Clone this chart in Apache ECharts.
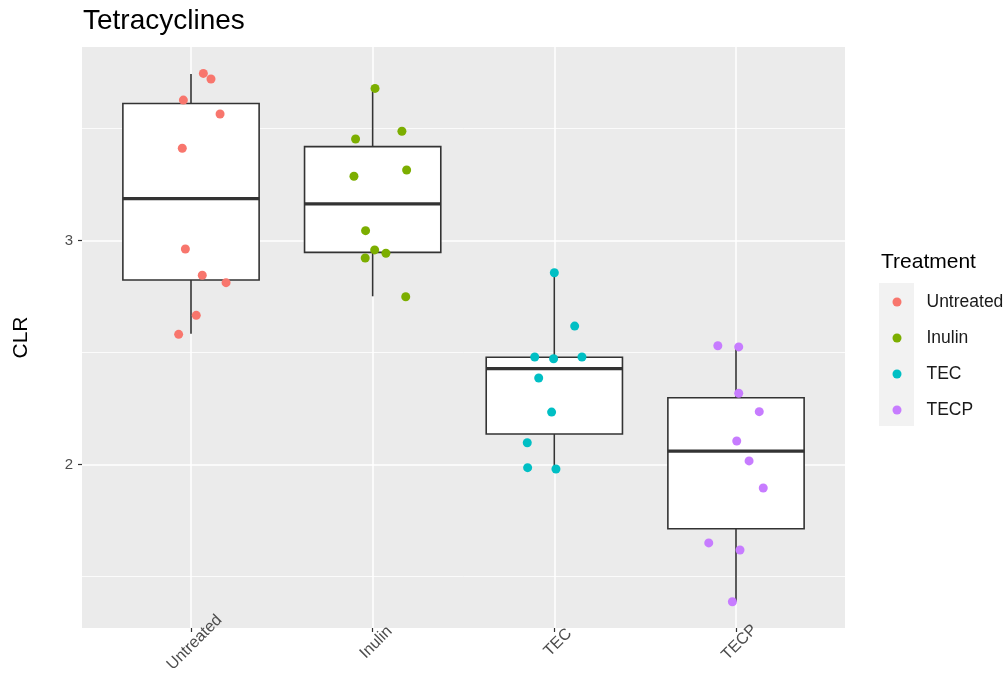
<!DOCTYPE html>
<html>
<head>
<meta charset="utf-8">
<script src="https://cdn.jsdelivr.net/npm/echarts@6/dist/echarts.min.js"></script>
<style>
html,body{margin:0;padding:0;background:#fff;}
#chart{width:1007px;height:678px;}
</style>
</head>
<body>
<div id="chart"></div>
<script>
// ---- data ----
const categories = ['Untreated', 'Inulin', 'TEC', 'TECP'];
const colors = ['#F8766D', '#7CAE00', '#00BFC4', '#C77CFF'];

// box statistics per category: [lowerWhisker, q1, median, q3, upperWhisker]
const boxUntreated = [2.584, 2.824, 3.187, 3.612, 3.744];
const boxInulin    = [2.751, 2.947, 3.164, 3.419, 3.681];
const boxTEC       = [1.980, 2.136, 2.428, 2.479, 2.856];
const boxTECP      = [1.387, 1.713, 2.060, 2.298, 2.527];

// jittered points: x positions (category index 1..4 plus jitter) and CLR values
const xUntreated = [1.068, 1.110, 0.958, 1.160, 0.952, 0.969, 1.062, 1.193, 1.029, 0.932];
const yUntreated = [3.746, 3.721, 3.627, 3.565, 3.412, 2.962, 2.845, 2.812, 2.666, 2.581];
const xInulin = [2.013, 2.161, 1.906, 2.187, 1.897, 1.961, 2.011, 2.073, 1.959, 2.182];
const yInulin = [3.679, 3.488, 3.453, 3.315, 3.287, 3.044, 2.958, 2.943, 2.922, 2.749];
const xTEC = [3.000, 3.112, 2.892, 2.996, 3.152, 2.914, 2.985, 2.851, 2.853, 3.009];
const yTEC = [2.856, 2.618, 2.480, 2.472, 2.480, 2.386, 2.234, 2.097, 1.986, 1.980];
const xTECP = [3.900, 4.015, 4.015, 4.128, 4.004, 4.072, 4.150, 3.850, 4.022, 3.980];
const yTECP = [2.530, 2.525, 2.318, 2.236, 2.105, 2.016, 1.895, 1.650, 1.618, 1.387];

const yMajorTicks = [2, 3];
const yMinorTicks = [1.5, 2.5, 3.5];
const xTicks = [1, 2, 3, 4];

// ---- build ----
const boxes = [boxUntreated, boxInulin, boxTEC, boxTECP];
const pointX = [xUntreated, xInulin, xTEC, xTECP];
const pointY = [yUntreated, yInulin, yTEC, yTECP];
const FONT = '"Liberation Sans", Arial, Helvetica, sans-serif';
const BOX_WIDTH = 0.75;

const boxData = boxes.map((b, i) => [i + 1, b[0], b[1], b[2], b[3], b[4]]);

function renderBox(params, api) {
  const x = api.value(0);
  const lo = api.coord([x, api.value(1)]);
  const q1 = api.coord([x, api.value(2)]);
  const med = api.coord([x, api.value(3)]);
  const q3 = api.coord([x, api.value(4)]);
  const hi = api.coord([x, api.value(5)]);
  const hw = api.size([BOX_WIDTH, 0])[0] / 2;
  const stroke = '#333333';
  return {
    type: 'group',
    children: [
      { type: 'line', shape: { x1: q3[0], y1: q3[1], x2: hi[0], y2: hi[1] }, style: { stroke, lineWidth: 1.6 } },
      { type: 'line', shape: { x1: q1[0], y1: q1[1], x2: lo[0], y2: lo[1] }, style: { stroke, lineWidth: 1.6 } },
      { type: 'rect', shape: { x: q1[0] - hw, y: q3[1], width: 2 * hw, height: q1[1] - q3[1] }, style: { fill: '#ffffff', stroke, lineWidth: 1.6 } },
      { type: 'line', shape: { x1: med[0] - hw, y1: med[1], x2: med[0] + hw, y2: med[1] }, style: { stroke, lineWidth: 3.2 } }
    ]
  };
}

const gridMarks = [];
yMinorTicks.forEach(v => gridMarks.push({ yAxis: v, lineStyle: { color: '#ffffff', width: 0.8, type: 'solid' } }));
yMajorTicks.forEach(v => gridMarks.push({ yAxis: v, lineStyle: { color: '#ffffff', width: 1.5, type: 'solid' } }));
xTicks.forEach(v => gridMarks.push({ xAxis: v, lineStyle: { color: '#ffffff', width: 1.5, type: 'solid' } }));

const series = [
  {
    name: 'grid', type: 'line', data: [], silent: true, z: 1,
    markLine: { z: 1, silent: true, symbol: ['none', 'none'], label: { show: false }, animation: false, data: gridMarks }
  },
  {
    name: 'box', type: 'custom', renderItem: renderBox, data: boxData, z: 3, silent: true,
    encode: { x: 0, y: [1, 2, 3, 4, 5] }
  }
];
categories.forEach((c, i) => {
  series.push({
    name: c, type: 'scatter', z: 6,
    data: pointX[i].map((x, j) => [x, pointY[i][j]]),
    symbolSize: 9,
    itemStyle: { color: colors[i], opacity: 1 }
  });
});

const chart = echarts.init(document.getElementById('chart'), null, { renderer: 'canvas' });
chart.setOption({
  animation: false,
  backgroundColor: '#ffffff',
  color: colors,
  title: [
    { text: 'Tetracyclines', left: 83, top: 7, padding: 0,
      textStyle: { fontFamily: FONT, fontSize: 28, fontWeight: 'normal', color: '#000000' } },
    { text: 'Treatment', left: 881, top: 252, padding: 0,
      textStyle: { fontFamily: FONT, fontSize: 21, fontWeight: 'normal', color: '#000000' } }
  ],
  grid: { left: 82, top: 47, width: 763, height: 581, show: true, backgroundColor: '#ebebeb', borderWidth: 0, containLabel: false },
  graphic: [
    { type: 'rect', left: 879, top: 283, shape: { width: 35, height: 143 }, style: { fill: '#f2f2f2' }, z: 0, silent: true }
  ],
  legend: {
    orient: 'vertical', left: 887.5, top: 287, z: 5,
    data: categories,
    icon: 'circle', itemWidth: 9, itemHeight: 9, itemGap: 16,
    textStyle: { fontFamily: FONT, fontSize: 17.5, color: '#1a1a1a', lineHeight: 20, padding: [0, 0, 0, 20] },
    selectedMode: false
  },
  xAxis: {
    type: 'value', min: 0.4, max: 4.6,
    axisLine: { show: false },
    splitLine: { show: false },
    axisTick: { show: true, customValues: xTicks, length: 4, lineStyle: { color: '#333333', width: 1.2 } },
    axisLabel: {
      customValues: xTicks,
      formatter: v => categories[Math.round(v) - 1] || '',
      rotate: 45, align: 'center', verticalAlign: 'middle', margin: 18,
      padding: [0, 0, 0, 10],
      fontFamily: FONT, fontSize: 16, color: '#4d4d4d'
    }
  },
  yAxis: {
    type: 'value', min: 1.27, max: 3.864,
    name: 'CLR', nameLocation: 'middle', nameGap: 50, nameRotate: 90,
    nameTextStyle: { fontFamily: FONT, fontSize: 21, color: '#000000' },
    axisLine: { show: false },
    splitLine: { show: false },
    axisTick: { show: true, customValues: yMajorTicks, length: 4, lineStyle: { color: '#333333', width: 1.2 } },
    axisLabel: { customValues: yMajorTicks, margin: 9, fontFamily: FONT, fontSize: 15, color: '#4d4d4d' }
  },
  series: series
});
</script>
</body>
</html>
